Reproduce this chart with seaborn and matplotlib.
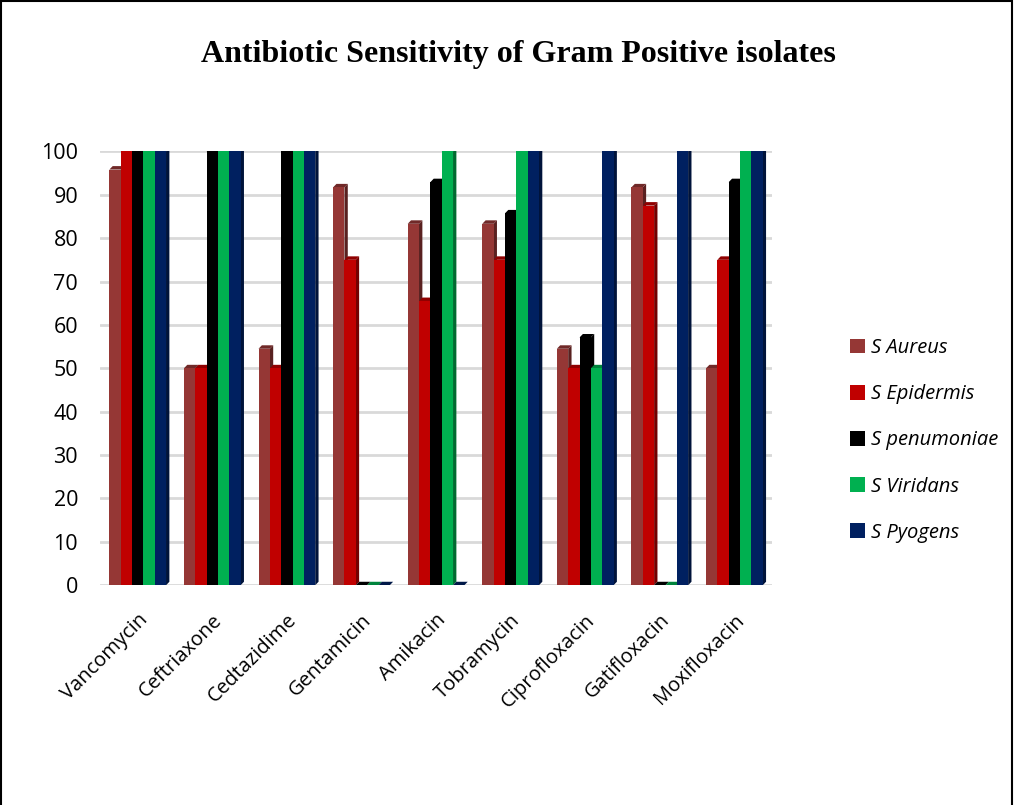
import matplotlib
matplotlib.use("Agg")
import matplotlib.pyplot as plt
from matplotlib.patches import Polygon, Rectangle
from matplotlib.colors import to_rgb
import seaborn as sns
import pandas as pd

antibiotics = ["Vancomycin", "Ceftriaxone", "Cedtazidime", "Gentamicin", "Amikacin",
               "Tobramycin", "Ciprofloxacin", "Gatifloxacin", "Moxifloxacin"]
strains = ["S Aureus", "S Epidermis", "S penumoniae", "S Viridans", "S Pyogens"]

s_aureus = [95.8, 50, 54.5, 91.7, 83.3, 83.3, 54.5, 91.7, 50]
s_epidermis = [100, 50, 50, 75, 65.5, 75, 50, 87.5, 75]
s_pneumoniae = [100, 100, 100, 0, 92.9, 85.7, 57.1, 0, 92.9]
s_viridans = [100, 100, 100, 0, 100, 100, 50, 0, 100]
s_pyogens = [100, 100, 100, 0, 0, 100, 100, 100, 100]

colors = ["#953735", "#C00000", "#000000", "#00B050", "#002060"]

series = [s_aureus, s_epidermis, s_pneumoniae, s_viridans, s_pyogens]
df = pd.DataFrame({
    "Antibiotic": antibiotics * len(strains),
    "Strain": [s for s in strains for _ in antibiotics],
    "Sensitivity": [v for vals in series for v in vals],
})

sns.set_theme(style="white")
plt.rcParams["font.family"] = ["Open Sans", "DejaVu Sans"]
plt.rcParams["text.color"] = "black"
plt.rcParams["xtick.color"] = "black"
plt.rcParams["ytick.color"] = "black"

fig = plt.figure(figsize=(10.14, 8.05), dpi=100)
ax = fig.add_axes([0.099, 0.273, 0.662, 0.539])

sns.barplot(data=df, x="Antibiotic", y="Sensitivity", hue="Strain",
            order=antibiotics, hue_order=strains, palette=colors,
            width=0.76, gap=0, saturation=1, linewidth=0, ax=ax, zorder=3)

# pseudo-3D depth: darker side and top faces behind each bar
dx, dy = 0.045, 0.8
for container, col in zip(ax.containers, colors):
    r, g, b = to_rgb(col)
    side = (r * 0.6, g * 0.6, b * 0.6)
    top = (r * 0.75, g * 0.75, b * 0.75)
    for bar in container:
        x0 = bar.get_x()
        w = bar.get_width()
        h = bar.get_height()
        x1 = x0 + w
        ax.add_patch(Polygon([(x1, 0), (x1, h), (x1 + dx, h + dy), (x1 + dx, dy)],
                             closed=True, facecolor=side, edgecolor="none", zorder=2))
        ax.add_patch(Polygon([(x0, h), (x1, h), (x1 + dx, h + dy), (x0 + dx, h + dy)],
                             closed=True, facecolor=top, edgecolor="none", zorder=2))

ax.set_ylim(0, 100)
ax.set_xlim(-0.5, 8.5)
ax.set_yticks(range(0, 101, 10))
ax.yaxis.grid(True, color="#D9D9D9", linewidth=2)
ax.set_axisbelow(True)
for s in ax.spines.values():
    s.set_visible(False)
ax.set_xlabel("")
ax.set_ylabel("")
ax.tick_params(axis="y", labelsize=15.5, pad=16, length=0)
ax.tick_params(axis="x", labelsize=14.5, length=0, pad=18)
for lab in ax.get_xticklabels():
    lab.set_rotation(45)
    lab.set_ha("right")
    lab.set_rotation_mode("anchor")

handles, labels = ax.get_legend_handles_labels()
ax.get_legend().remove()
fig.legend(handles, labels, loc="center left", bbox_to_anchor=(0.82, 0.453),
           frameon=False, prop={"style": "italic", "size": 14.5},
           handlelength=0.75, handleheight=0.75, handletextpad=0.3, labelspacing=1.3)

fig.suptitle("Antibiotic Sensitivity of Gram Positive isolates", x=0.511, y=0.932,
             va="center", fontsize=23, fontweight="bold", family="Liberation Serif",
             color="black")

fig.patches.append(Rectangle((0.001, -0.01), 0.997, 1.009, transform=fig.transFigure,
                             fill=False, edgecolor="black", linewidth=1.5))

fig.savefig("out.png", dpi=100)
